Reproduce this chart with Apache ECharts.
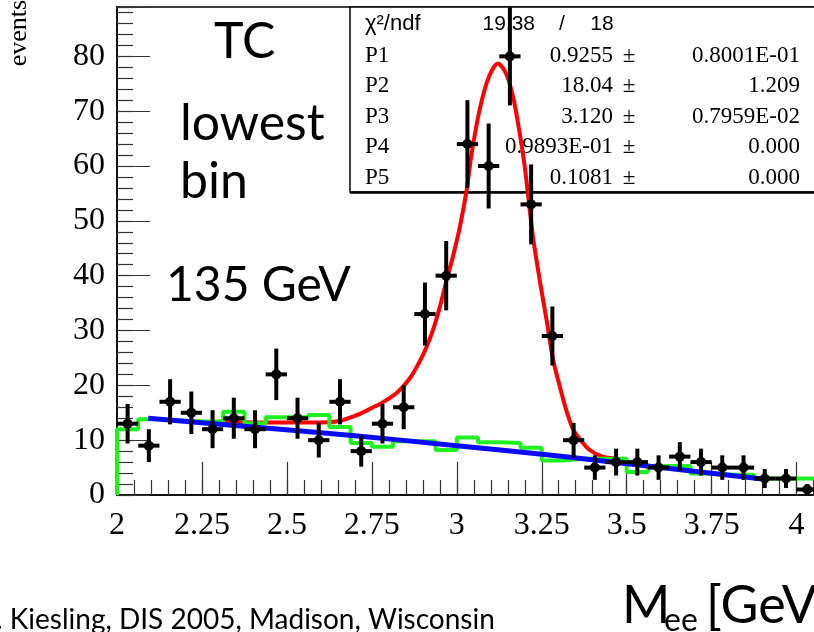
<!DOCTYPE html>
<html>
<head>
<meta charset="utf-8">
<script src="https://cdn.jsdelivr.net/npm/echarts@6/dist/echarts.min.js"></script>
<style>
html,body{margin:0;padding:0;background:#fff;overflow:hidden}
#chart{width:814px;height:632px}
</style>
</head>
<body>
<div id="chart"></div>
<script>
// ---- data ----
const binWidth = 0.0625;
const binCenters = [2.03125,2.09375,2.15625,2.21875,2.28125,2.34375,2.40625,2.46875,2.53125,2.59375,
  2.65625,2.71875,2.78125,2.84375,2.90625,2.96875,3.03125,3.09375,3.15625,3.21875,
  3.28125,3.34375,3.40625,3.46875,3.53125,3.59375,3.65625,3.71875,3.78125,3.84375,
  3.90625,3.96875,4.03125];
const dataCounts = [13,9,17,15,12,14,12,22,14,10,17,8,13,16,33,40,64,60,80,53,29,10,5,6,6,5,7,6,5,5,3,3,1];
const mcCounts = [12.0,13.8,13.6,13.4,13.4,15.2,13.1,14.2,14.2,14.6,12.4,9.5,8.8,9.8,9.8,8.2,10.5,9.6,9.5,8.6,
  6.3,6.6,6.6,6.6,4.2,5.3,5.3,3.9,3.7,3.7,3.0,3.0,3.0];
const fitMass = [2.30,2.45,2.58,2.656,2.694,2.715,2.754,2.774,2.823,2.862,2.891,2.911,2.930,2.950,2.970,2.989,
  3.009,3.029,3.043,3.068,3.094,3.121,3.144,3.166,3.185,3.200,3.224,3.244,3.264,3.283,3.303,3.323,3.342,
  3.362,3.391,3.429,3.465];
const fitEvents = [13.4,13.2,13.2,13.5,14.3,14.8,16.0,16.6,18.6,21.3,24.4,27.0,30.1,34.3,39.2,43.6,
  48.9,55.6,62.0,70.5,76.2,78.7,77.0,72.5,66.0,59.8,47.2,39.2,32.0,24.8,19.8,15.3,12.0,
  10.2,8.2,7.0,6.7];
const bgMass = [2.092,2.4,2.7,3.0,3.3,3.6,3.9];
const bgEvents = [14.0,12.4,10.8,9.0,7.1,5.0,2.9];
const xTickLabels = ['2','2.25','2.5','2.75','3','3.25','3.5','3.75','4'];
const yTickLabels = ['0','10','20','30','40','50','60','70','80'];
const statRows = [
  ['P1','0.9255','0.8001E-01'],
  ['P2','18.04','1.209'],
  ['P3','3.120','0.7959E-02'],
  ['P4','0.9893E-01','0.000'],
  ['P5','0.1081','0.000']
];

// ---- build series data ----
const histData = [[binCenters[0] - binWidth / 2, 0]];
binCenters.forEach((c, i) => histData.push([c - binWidth / 2, mcCounts[i]]));
histData.push([binCenters[binCenters.length - 1] + binWidth / 2, mcCounts[mcCounts.length - 1]]);
const pointData = binCenters.map((c, i) => [c, dataCounts[i]]);
const fitData = fitMass.map((m, i) => [m, fitEvents[i]]);
const bgData = bgMass.map((m, i) => [m, bgEvents[i]]);

function renderPoint(params, api) {
  const x = api.value(0), y = api.value(1);
  const err = Math.sqrt(y);
  const c = api.coord([x, y]);
  const lo = api.coord([x, Math.max(0, y - err)]);
  const hi = api.coord([x, y + err]);
  const l = api.coord([x - binWidth / 2, y]);
  const r = api.coord([x + binWidth / 2, y]);
  const st = { stroke: '#000', lineWidth: 4 };
  return {
    type: 'group',
    children: [
      { type: 'line', shape: { x1: c[0], y1: lo[1], x2: c[0], y2: hi[1] }, style: st },
      { type: 'line', shape: { x1: l[0], y1: c[1], x2: r[0], y2: c[1] }, style: st },
      { type: 'circle', shape: { cx: c[0], cy: c[1], r: 5 }, style: { fill: '#000' } }
    ]
  };
}

const serif = '"Liberation Serif", "Times New Roman", serif';
const sans = '"Liberation Sans", Arial, sans-serif';
const hand = 'Lato, "Noto Sans", sans-serif';
const XMIN = 2, XMAX = 4.06, YMIN = 0, YMAX = 89;

function xLabel(v) {
  const k = Math.round((v - XMIN) / 0.25);
  return Math.abs(v - (XMIN + k * 0.25)) < 1e-6 && xTickLabels[k] !== undefined ? xTickLabels[k] : '';
}
function yLabel(v) {
  const k = Math.round(v / 10);
  return Math.abs(v - k * 10) < 1e-6 && yTickLabels[k] !== undefined ? yTickLabels[k] : '';
}

const graphics = [];
// stats box
graphics.push({ type: 'rect', z: 0, shape: { x: 350, y: 7, width: 480, height: 185 },
  style: { fill: '#fff', stroke: '#000', lineWidth: 1.5 } });
graphics.push({ type: 'line', z: 0, shape: { x1: 350, y1: 192.5, x2: 830, y2: 192.5 },
  style: { stroke: '#000', lineWidth: 2.5 } });
graphics.push({ type: 'text', z: 1, x: 365, y: 24, style: { text: 'χ²/ndf', font: '22px ' + sans, fill: '#000', textVerticalAlign: 'middle' } });
graphics.push({ type: 'text', z: 1, x: 535, y: 24, style: { text: '19.38', font: '21px ' + sans, fill: '#000', textAlign: 'right', textVerticalAlign: 'middle' } });
graphics.push({ type: 'text', z: 1, x: 562, y: 24, style: { text: '/', font: '21px ' + sans, fill: '#000', textAlign: 'center', textVerticalAlign: 'middle' } });
graphics.push({ type: 'text', z: 1, x: 602, y: 24, style: { text: '18', font: '21px ' + sans, fill: '#000', textAlign: 'center', textVerticalAlign: 'middle' } });
statRows.forEach((row, i) => {
  const y = 56 + i * 30.4;
  graphics.push({ type: 'text', z: 1, x: 365, y, style: { text: row[0], font: '23px ' + serif, fill: '#000', textVerticalAlign: 'middle' } });
  graphics.push({ type: 'text', z: 1, x: 613, y, style: { text: row[1], font: '23px ' + serif, fill: '#000', textAlign: 'right', textVerticalAlign: 'middle' } });
  graphics.push({ type: 'text', z: 1, x: 629, y, style: { text: '±', font: '23px ' + serif, fill: '#000', textAlign: 'center', textVerticalAlign: 'middle' } });
  graphics.push({ type: 'text', z: 1, x: 800, y, style: { text: row[2], font: '23px ' + serif, fill: '#000', textAlign: 'right', textVerticalAlign: 'middle' } });
});
// annotations
graphics.push({ type: 'text', z: 1, x: 214, y: 42, style: { text: 'TC', font: '50px ' + hand, fill: '#000', textVerticalAlign: 'middle' } });
graphics.push({ type: 'text', z: 1, x: 180, y: 124, style: { text: 'lowest', font: '50px ' + hand, fill: '#000', textVerticalAlign: 'middle' } });
graphics.push({ type: 'text', z: 1, x: 180, y: 182, style: { text: 'bin', font: '50px ' + hand, fill: '#000', textVerticalAlign: 'middle' } });
graphics.push({ type: 'text', z: 1, x: 166, y: 286, style: { text: '135 GeV', font: '48px ' + hand, fill: '#000', textVerticalAlign: 'middle' } });
// axis titles
graphics.push({ type: 'text', z: 1, x: 19, y: 33, rotation: Math.PI / 2,
  style: { text: 'events', font: '26px ' + serif, fill: '#000', textAlign: 'center', textVerticalAlign: 'middle' } });
graphics.push({ type: 'text', z: 1, x: 622, y: 606, style: { text: 'M', font: '52px ' + hand, fill: '#000', textVerticalAlign: 'middle' } });
graphics.push({ type: 'text', z: 1, x: 664, y: 621, style: { text: 'ee', font: '32px ' + hand, fill: '#000', textVerticalAlign: 'middle' } });
graphics.push({ type: 'text', z: 1, x: 706, y: 606, style: { text: '[GeV]', font: '52px ' + hand, fill: '#000', textVerticalAlign: 'middle' } });
graphics.push({ type: 'text', z: 1, x: -4, y: 620, style: { text: '. Kiesling, DIS 2005, Madison, Wisconsin', font: '28px ' + hand, fill: '#000', textVerticalAlign: 'middle' } });

const tickStyle = { color: '#333', width: 1.2 };
const option = {
  animation: false,
  backgroundColor: '#fff',
  grid: { left: 117, top: 7, width: 700, height: 488, show: true, borderColor: '#000', borderWidth: 1.5,
    backgroundColor: 'transparent', containLabel: false, outerBoundsMode: 'none' },
  xAxis: [
    { type: 'value', min: XMIN, max: XMAX, interval: 0.05, position: 'bottom',
      axisLine: { show: true, onZero: false, lineStyle: { color: '#111', width: 2 } },
      axisTick: { show: true, inside: true, length: 15, lineStyle: tickStyle },
      axisLabel: { show: false }, splitLine: { show: false } },
    { type: 'value', min: XMIN, max: XMAX, interval: 0.25, position: 'bottom',
      axisLine: { show: false, onZero: false },
      axisTick: { show: true, inside: true, length: 33, lineStyle: tickStyle },
      axisLabel: { show: true, margin: 15, color: '#000', fontSize: 32, fontFamily: serif, formatter: xLabel,
        showMinLabel: true, showMaxLabel: true, hideOverlap: false },
      splitLine: { show: false } }
  ],
  yAxis: [
    { type: 'value', min: YMIN, max: YMAX, interval: 2, position: 'left',
      axisLine: { show: true, onZero: false, lineStyle: { color: '#111', width: 2 } },
      axisTick: { show: true, inside: true, length: 16, lineStyle: tickStyle },
      axisLabel: { show: false }, splitLine: { show: false } },
    { type: 'value', min: YMIN, max: YMAX, interval: 10, position: 'left',
      axisLine: { show: false, onZero: false },
      axisTick: { show: true, inside: true, length: 33, lineStyle: tickStyle },
      axisLabel: { show: true, margin: 12, color: '#000', fontSize: 32, fontFamily: serif, formatter: yLabel,
        showMinLabel: true, showMaxLabel: true, hideOverlap: false },
      splitLine: { show: false } }
  ],
  graphic: graphics,
  series: [
    { name: 'fit', type: 'line', xAxisIndex: 0, yAxisIndex: 0, z: 2, data: fitData, smooth: 0.3,
      showSymbol: false, lineStyle: { color: '#ff0000', width: 4 } },
    { name: 'mc', type: 'line', xAxisIndex: 0, yAxisIndex: 0, z: 3, data: histData, step: 'end',
      showSymbol: false, lineStyle: { color: '#1ff01f', width: 4 } },
    { name: 'bg', type: 'line', xAxisIndex: 0, yAxisIndex: 0, z: 4, data: bgData, smooth: 0.3,
      showSymbol: false, lineStyle: { color: '#0a0aff', width: 5 } },
    { name: 'data', type: 'custom', xAxisIndex: 0, yAxisIndex: 0, z: 5, data: pointData,
      renderItem: renderPoint, clip: true }
  ]
};
const chart = echarts.init(document.getElementById('chart'), null, { renderer: 'canvas' });
chart.setOption(option);
</script>
</body>
</html>
